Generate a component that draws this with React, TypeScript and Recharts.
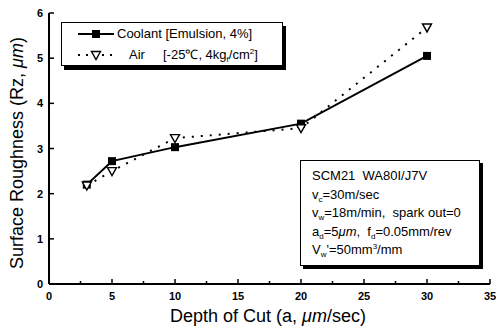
import { LineChart, Line, XAxis, YAxis } from 'recharts';

const depth = [3, 5, 10, 20, 30];
const coolant = [2.2, 2.72, 3.03, 3.55, 5.05];
const air = [2.18, 2.5, 3.23, 3.45, 5.68];

const xTicks = [0, 2.5, 5, 7.5, 10, 12.5, 15, 17.5, 20, 22.5, 25, 27.5, 30, 32.5, 35];
const yTicks = [0, 1, 2, 3, 4, 5, 6];

const data = depth.map((d, i) => ({ depth: d, coolant: coolant[i], air: air[i] }));

const FONT = '"Liberation Sans", Arial, Helvetica, sans-serif';

const isMajor = (v: number) => v % 5 === 0;

function BottomTick(props: any) {
  const { x, y, payload } = props;
  const v = payload.value;
  return (
    <g>
      <line x1={x} x2={x} y1={y} y2={y - (isMajor(v) ? 5 : 3)} stroke="#000" strokeWidth={1.5} />
      {isMajor(v) && (
        <text x={x} y={y + 16} textAnchor="middle" fontSize={11} fontWeight="bold" fontFamily={FONT} fill="#000">
          {v}
        </text>
      )}
    </g>
  );
}

function TopTick(props: any) {
  const { x, y, payload } = props;
  return <line x1={x} x2={x} y1={y} y2={y + (isMajor(payload.value) ? 5 : 3)} stroke="#000" strokeWidth={1.5} />;
}

function LeftTick(props: any) {
  const { x, y, payload } = props;
  return (
    <g>
      <line x1={x} x2={x + 5} y1={y} y2={y} stroke="#000" strokeWidth={1.5} />
      <text x={x - 6} y={y + 4} textAnchor="end" fontSize={11} fontWeight="bold" fontFamily={FONT} fill="#000">
        {payload.value}
      </text>
    </g>
  );
}

function RightTick(props: any) {
  const { x, y } = props;
  return <line x1={x} x2={x - 5} y1={y} y2={y} stroke="#000" strokeWidth={1.5} />;
}

function SquareDot(props: any) {
  const { cx, cy } = props;
  if (cx == null || cy == null) return null;
  return <rect x={cx - 4} y={cy - 4} width={8} height={8} fill="#000" />;
}

function TriangleDot(props: any) {
  const { cx, cy } = props;
  if (cx == null || cy == null) return null;
  return (
    <polygon
      points={`${cx - 4.5},${cy - 3.5} ${cx + 4.5},${cy - 3.5} ${cx},${cy + 4.5}`}
      fill="#fff"
      stroke="#000"
      strokeWidth={1.4}
    />
  );
}

const sub = { fontSize: 8, position: 'relative', top: 3, lineHeight: 0 } as const;
const sup = { fontSize: 8, position: 'relative', top: -5, lineHeight: 0 } as const;

export default function App() {
  return (
    <div style={{ position: 'fixed', left: 0, top: 0, width: 496, height: 331, background: '#fff', fontFamily: FONT }}>
      <LineChart width={496} height={331} data={data} margin={{ top: 13, right: 6, bottom: 17, left: 14 }}>
        <XAxis
          xAxisId="b"
          dataKey="depth"
          type="number"
          domain={[0, 35]}
          ticks={xTicks}
          interval={0}
          height={30}
          tickSize={0}
          tickMargin={0}
          tickLine={false}
          axisLine={{ stroke: '#000', strokeWidth: 2 }}
          tick={<BottomTick />}
        />
        <XAxis
          xAxisId="t"
          orientation="top"
          dataKey="depth"
          type="number"
          domain={[0, 35]}
          ticks={xTicks}
          interval={0}
          height={0}
          tickSize={0}
          tickMargin={0}
          tickLine={false}
          axisLine={{ stroke: '#000', strokeWidth: 1.5 }}
          tick={<TopTick />}
        />
        <YAxis
          yAxisId="l"
          type="number"
          domain={[0, 6]}
          ticks={yTicks}
          interval={0}
          width={35}
          tickSize={0}
          tickMargin={0}
          tickLine={false}
          axisLine={{ stroke: '#000', strokeWidth: 2 }}
          tick={<LeftTick />}
        />
        <YAxis
          yAxisId="r"
          orientation="right"
          type="number"
          domain={[0, 6]}
          ticks={yTicks}
          interval={0}
          width={0}
          tickSize={0}
          tickMargin={0}
          tickLine={false}
          axisLine={{ stroke: '#000', strokeWidth: 1.5 }}
          tick={<RightTick />}
        />
        <Line
          xAxisId="t"
          yAxisId="r"
          dataKey="coolant"
          stroke="none"
          dot={false}
          activeDot={false}
          legendType="none"
          isAnimationActive={false}
        />
        <Line
          xAxisId="b"
          yAxisId="l"
          dataKey="coolant"
          type="linear"
          stroke="#000"
          strokeWidth={2}
          dot={<SquareDot />}
          activeDot={false}
          isAnimationActive={false}
        />
        <Line
          xAxisId="b"
          yAxisId="l"
          dataKey="air"
          type="linear"
          stroke="#000"
          strokeWidth={2}
          strokeDasharray="2 7"
          dot={<TriangleDot />}
          activeDot={false}
          isAnimationActive={false}
        />
      </LineChart>

      {/* axis titles */}
      <div
        style={{
          position: 'absolute',
          left: 17,
          top: 153,
          transform: 'translate(-50%, -50%) rotate(-90deg)',
          whiteSpace: 'nowrap',
          fontSize: 18,
        }}
      >
        Surface Roughness (Rz, <i>μm</i>)
      </div>
      <div
        style={{
          position: 'absolute',
          left: 268,
          top: 316,
          transform: 'translate(-50%, -50%)',
          whiteSpace: 'nowrap',
          fontSize: 18,
        }}
      >
        Depth of Cut (a, <i>μm</i>/sec)
      </div>

      {/* legend */}
      <div
        style={{
          position: 'absolute',
          left: 61,
          top: 22,
          width: 220,
          height: 42,
          border: '1.5px solid #000',
          background: '#fff',
          boxShadow: '3px 4px 0 #000',
          fontSize: 13,
          lineHeight: '16px',
        }}
      >
        <svg width={40} height={42} style={{ position: 'absolute', left: 14, top: 0 }}>
          <line x1={2} x2={38} y1={11} y2={11} stroke="#000" strokeWidth={2} />
          <rect x={16} y={7} width={8} height={8} fill="#000" />
          <line x1={2} x2={38} y1={32} y2={32} stroke="#000" strokeWidth={2} strokeDasharray="2 6" />
          <polygon points="15.5,28.5 24.5,28.5 20,36.5" fill="#fff" stroke="#000" strokeWidth={1.4} />
        </svg>
        <div style={{ position: 'absolute', left: 55, top: 3, whiteSpace: 'nowrap' }}>Coolant [Emulsion, 4%]</div>
        <div style={{ position: 'absolute', left: 67, top: 24, whiteSpace: 'nowrap' }}>Air</div>
        <div style={{ position: 'absolute', left: 101, top: 24, whiteSpace: 'nowrap' }}>
          [-25℃, 4kg<span style={sub}>f</span>/cm<span style={sup}>2</span>]
        </div>
      </div>

      {/* conditions box */}
      <div
        style={{
          position: 'absolute',
          left: 300,
          top: 160,
          width: 180,
          height: 106,
          border: '1.5px solid #000',
          background: '#fff',
          boxShadow: '3px 3px 0 #000',
          fontSize: 13,
          lineHeight: '18.5px',
          paddingLeft: 11,
          paddingTop: 6,
          boxSizing: 'border-box',
          whiteSpace: 'nowrap',
        }}
      >
        <div>SCM21&nbsp; WA80I/J7V</div>
        <div>
          v<span style={sub}>c</span>=30m/sec
        </div>
        <div>
          v<span style={sub}>w</span>=18m/min,&nbsp; spark out=0
        </div>
        <div>
          a<span style={sub}>d</span>=5<i>μm</i>,&nbsp; f<span style={sub}>d</span>=0.05mm/rev
        </div>
        <div>
          V<span style={sub}>w</span>'=50mm<span style={sup}>3</span>/mm
        </div>
      </div>
    </div>
  );
}
